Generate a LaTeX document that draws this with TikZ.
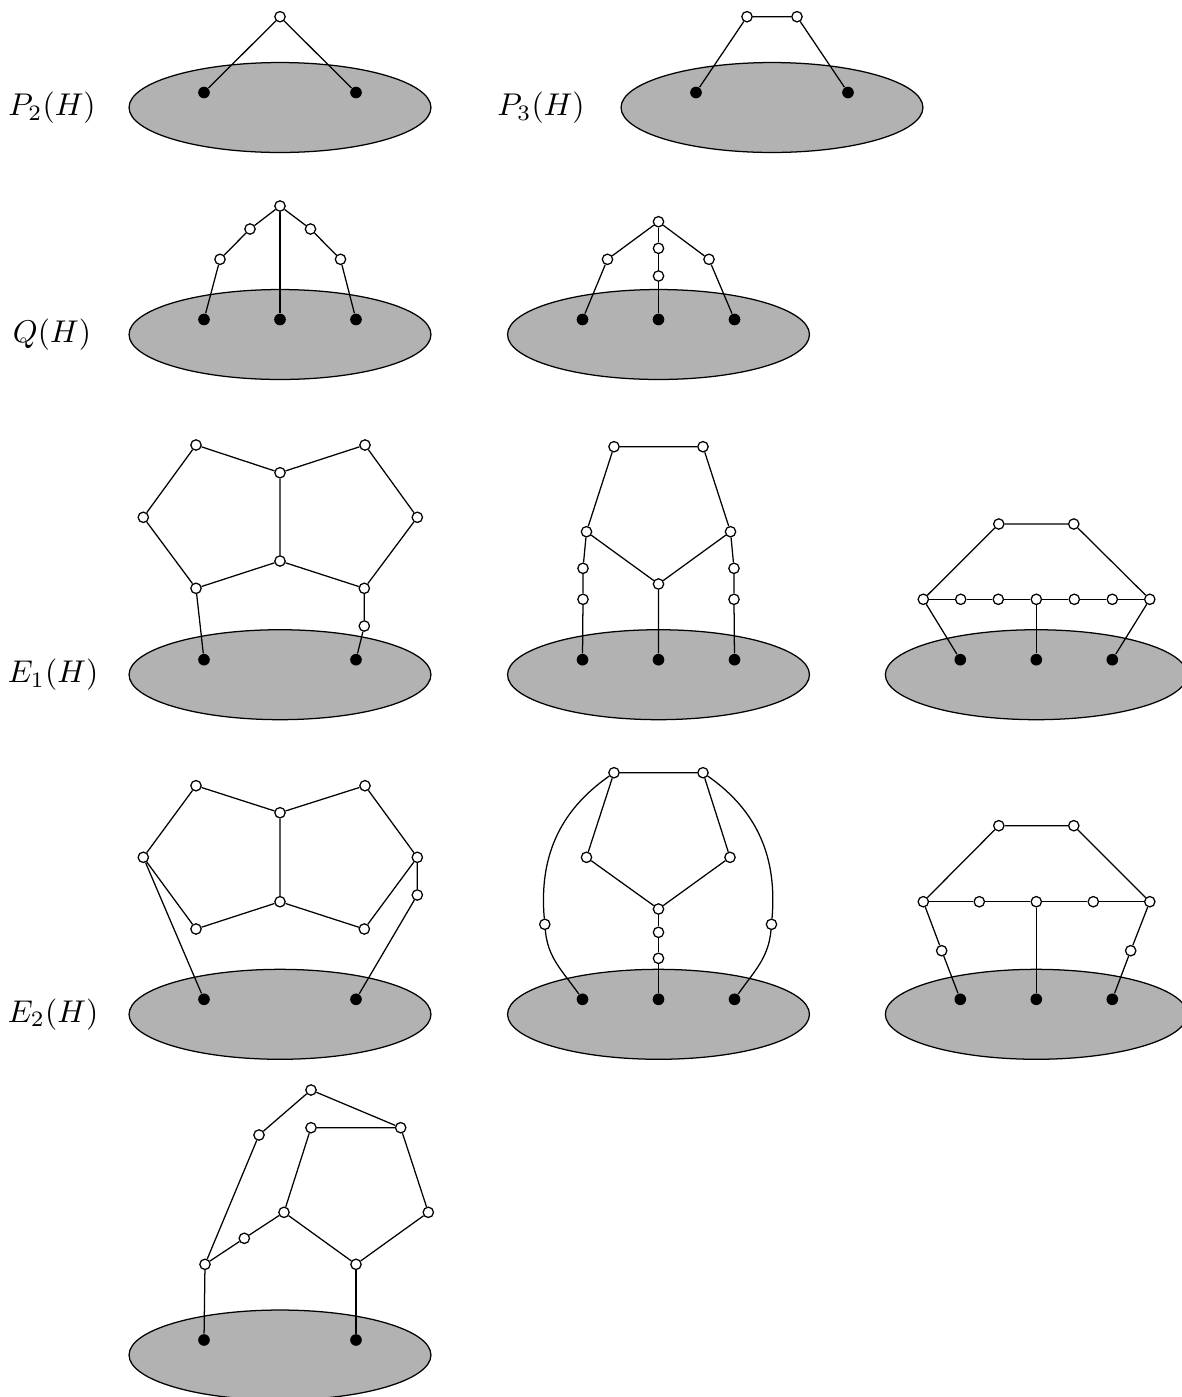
\documentclass[tikz,border=0pt]{standalone}
\usetikzlibrary{shapes.geometric}
\begin{document}
\begin{tikzpicture}[x=0.318pt,y=-0.318pt,
  ov/.style={circle,draw,fill=white,inner sep=0pt,minimum size=3.3pt},
  bv/.style={circle,fill=black,inner sep=0pt,minimum size=3.7pt},
  blob/.style={ellipse,draw,fill=black!30,inner sep=0pt,minimum width=96pt,minimum height=28.6pt},
  lab/.style={inner sep=0pt}]
\useasboundingbox (0,0) rectangle (1181,1397);

% labels
\node[lab] (lp2) at (52,107.5) {$P_2(H)$};
\node[lab] (lp3) at (541,107.5) {$P_3(H)$};
\node[lab] (lq) at (52,334.5) {$Q(H)$};
\node[lab] (le1) at (53,674.7) {$E_1(H)$};
\node[lab] (le2) at (53,1014.3) {$E_2(H)$};

% ---------- P2(H)
\begin{scope}[shift={(280,107.5)}]
\node[blob] (pa) at (0,0) {};
\node[bv] (pa1) at (-76,-15) {};
\node[bv] (pa2) at (76,-15) {};
\node[ov] (pat) at (0,-90.8) {};
\draw (pa1) -- (pat) -- (pa2);
\end{scope}

% ---------- P3(H)
\begin{scope}[shift={(772,107.5)}]
\node[blob] (pb) at (0,0) {};
\node[bv] (pb1) at (-76,-15) {};
\node[bv] (pb2) at (76,-15) {};
\node[ov] (pbt1) at (-25,-90.8) {};
\node[ov] (pbt2) at (25,-90.8) {};
\draw (pb1) -- (pbt1) -- (pbt2) -- (pb2);
\end{scope}

% ---------- Q(H) first
\begin{scope}[shift={(280,334.5)}]
\node[blob] (qa) at (0,0) {};
\node[bv] (qa1) at (-76,-15) {};
\node[bv] (qa2) at (0,-15) {};
\node[bv] (qa3) at (76,-15) {};
\node[ov] (qat) at (0,-128.5) {};
\node[ov] (qal1) at (-30,-105.5) {};
\node[ov] (qal2) at (-60,-75.2) {};
\node[ov] (qar1) at (30.5,-105.5) {};
\node[ov] (qar2) at (60.5,-75.2) {};
\draw (qa1) -- (qal2) -- (qal1) -- (qat) -- (qar1) -- (qar2) -- (qa3);
\draw (qat) -- (qa2);
\end{scope}

% ---------- Q(H) second
\begin{scope}[shift={(658.5,334.5)}]
\node[blob] (qb) at (0,0) {};
\node[bv] (qb1) at (-76,-15) {};
\node[bv] (qb2) at (0,-15) {};
\node[bv] (qb3) at (76,-15) {};
\node[ov] (qbt) at (0,-112.8) {};
\node[ov] (qbm1) at (0,-86.2) {};
\node[ov] (qbm2) at (0,-58.5) {};
\node[ov] (qbl) at (-51,-75.2) {};
\node[ov] (qbr) at (50.5,-75.2) {};
\draw (qb1) -- (qbl) -- (qbt) -- (qbr) -- (qb3);
\draw (qbt) -- (qbm1) -- (qbm2) -- (qb2);
\end{scope}

% ---------- E1(H) first
\begin{scope}[shift={(280,674.7)}]
\node[blob] (ea) at (0,0) {};
\node[bv] (ea1) at (-76,-15) {};
\node[bv] (ea2) at (76,-15) {};
\node[ov] (eaA) at (-84,-229.7) {};
\node[ov] (eaB) at (85,-229.7) {};
\node[ov] (eaC) at (0,-202) {};
\node[ov] (eaD) at (-136.7,-157.4) {};
\node[ov] (eaE) at (137.3,-157.4) {};
\node[ov] (eaF) at (0,-113.7) {};
\node[ov] (eaG) at (-84,-86.4) {};
\node[ov] (eaH) at (84.3,-86.4) {};
\node[ov] (eaI) at (84.3,-48.7) {};
\draw (eaC) -- (eaA) -- (eaD) -- (eaG) -- (eaF) -- (eaH) -- (eaE) -- (eaB) -- (eaC) -- (eaF);
\draw (eaG) -- (ea1);
\draw (eaH) -- (eaI) -- (ea2);
\end{scope}

% ---------- E1(H) second
\begin{scope}[shift={(658.5,674.7)}]
\node[blob] (eb) at (0,0) {};
\node[bv] (eb1) at (-76,-15) {};
\node[bv] (eb2) at (0,-15) {};
\node[bv] (eb3) at (76,-15) {};
\node[ov] (ebT1) at (-44.5,-228) {};
\node[ov] (ebT2) at (44.5,-228) {};
\node[ov] (ebL) at (-72,-143) {};
\node[ov] (ebR) at (72,-143) {};
\node[ov] (ebM) at (0,-90.7) {};
\node[ov] (ebL1) at (-75.5,-106.4) {};
\node[ov] (ebL2) at (-75.5,-75.4) {};
\node[ov] (ebR1) at (75.5,-106.4) {};
\node[ov] (ebR2) at (75.5,-75.4) {};
\draw (ebM) -- (ebL) -- (ebT1) -- (ebT2) -- (ebR) -- (ebM) -- (eb2);
\draw (ebL) -- (ebL1) -- (ebL2) -- (eb1);
\draw (ebR) -- (ebR1) -- (ebR2) -- (eb3);
\end{scope}

% ---------- E1(H) third
\begin{scope}[shift={(1036.3,674.7)}]
\node[blob] (ec) at (0,0) {};
\node[bv] (ec1) at (-76,-15) {};
\node[bv] (ec2) at (0,-15) {};
\node[bv] (ec3) at (76,-15) {};
\node[ov] (ecT1) at (-37.5,-150.7) {};
\node[ov] (ecT2) at (37.5,-150.7) {};
\node[ov] (ecr0) at (-113,-75.4) {};
\node[ov] (ecr1) at (-75.6,-75.4) {};
\node[ov] (ecr2) at (-38,-75.4) {};
\node[ov] (ecr3) at (0,-75.4) {};
\node[ov] (ecr4) at (38,-75.4) {};
\node[ov] (ecr5) at (76,-75.4) {};
\node[ov] (ecr6) at (113.5,-75.4) {};
\draw (ecr0) -- (ecT1) -- (ecT2) -- (ecr6);
\draw (ecr0) -- (ecr1) -- (ecr2) -- (ecr3) -- (ecr4) -- (ecr5) -- (ecr6);
\draw (ecr0) -- (ec1);
\draw (ecr3) -- (ec2);
\draw (ecr6) -- (ec3);
\end{scope}

% ---------- E2(H) first
\begin{scope}[shift={(280,1014.3)}]
\node[blob] (fa) at (0,0) {};
\node[bv] (fa1) at (-76,-15) {};
\node[bv] (fa2) at (76,-15) {};
\node[ov] (faA) at (-84,-228.6) {};
\node[ov] (faB) at (85,-228.6) {};
\node[ov] (faC) at (0,-201.6) {};
\node[ov] (faD) at (-136.7,-157) {};
\node[ov] (faE) at (137.3,-157) {};
\node[ov] (faEp) at (137.3,-119.3) {};
\node[ov] (faF) at (0,-112.6) {};
\node[ov] (faG) at (-84,-85.3) {};
\node[ov] (faH) at (84.3,-85.3) {};
\draw (faC) -- (faA) -- (faD) -- (faG) -- (faF) -- (faH) -- (faE) -- (faB) -- (faC) -- (faF);
\draw (faD) -- (fa1);
\draw (faE) -- (faEp) -- (fa2);
\end{scope}

% ---------- E2(H) second
\begin{scope}[shift={(658.5,1014.3)}]
\node[blob] (fb) at (0,0) {};
\node[bv] (fb1) at (-76,-15) {};
\node[bv] (fb2) at (0,-15) {};
\node[bv] (fb3) at (76,-15) {};
\node[ov] (fbT1) at (-44.5,-241.6) {};
\node[ov] (fbT2) at (44.5,-241.6) {};
\node[ov] (fbL) at (-72,-157) {};
\node[ov] (fbR) at (71.5,-157) {};
\node[ov] (fbM) at (0,-105.3) {};
\node[ov] (fbM1) at (0,-82) {};
\node[ov] (fbM2) at (0,-56) {};
\node[ov] (fbLL) at (-113.7,-90) {};
\node[ov] (fbRR) at (113,-90) {};
\draw (fbM) -- (fbL) -- (fbT1) -- (fbT2) -- (fbR) -- (fbM);
\draw (fbM) -- (fbM1) -- (fbM2) -- (fb2);
\draw (fbT1) to[out=215,in=95] (fbLL);
\draw (fbLL) to[out=-85,in=125] (fb1);
\draw (fbT2) to[out=-35,in=85] (fbRR);
\draw (fbRR) to[out=-95,in=55] (fb3);
\end{scope}

% ---------- E2(H) third
\begin{scope}[shift={(1036.3,1014.3)}]
\node[blob] (fc) at (0,0) {};
\node[bv] (fc1) at (-76,-15) {};
\node[bv] (fc2) at (0,-15) {};
\node[bv] (fc3) at (76,-15) {};
\node[ov] (fcT1) at (-37.5,-188.6) {};
\node[ov] (fcT2) at (37.5,-188.6) {};
\node[ov] (fcr0) at (-113,-112.6) {};
\node[ov] (fcr1) at (-57,-112.6) {};
\node[ov] (fcr2) at (0,-112.6) {};
\node[ov] (fcr3) at (57,-112.6) {};
\node[ov] (fcr4) at (113.5,-112.6) {};
\node[ov] (fcLL) at (-94.6,-63.6) {};
\node[ov] (fcRR) at (94.4,-63.6) {};
\draw (fcr0) -- (fcT1) -- (fcT2) -- (fcr4);
\draw (fcr0) -- (fcr1) -- (fcr2) -- (fcr3) -- (fcr4);
\draw (fcr0) -- (fcLL) -- (fc1);
\draw (fcr2) -- (fc2);
\draw (fcr4) -- (fcRR) -- (fc3);
\end{scope}

% ---------- bottom graph
\begin{scope}[shift={(280,1355)}]
\node[blob] (ga) at (0,0) {};
\node[bv] (ga1) at (-76,-15) {};
\node[bv] (ga2) at (76,-15) {};
\node[ov] (gaT) at (31,-265) {};
\node[ov] (gaA) at (-21,-220) {};
\node[ov] (gaB1) at (31,-227.3) {};
\node[ov] (gaB2) at (120.7,-227.3) {};
\node[ov] (gaC) at (4,-142.7) {};
\node[ov] (gaD) at (148.3,-142.7) {};
\node[ov] (gaE) at (-35.7,-116.7) {};
\node[ov] (gaF) at (-75,-90.7) {};
\node[ov] (gaG) at (76,-90.7) {};
\draw (gaF) -- (gaA) -- (gaT) -- (gaB2);
\draw (gaC) -- (gaB1) -- (gaB2) -- (gaD) -- (gaG) -- (gaC);
\draw (gaC) -- (gaE) -- (gaF);
\draw (gaF) -- (ga1);
\draw (gaG) -- (ga2);
\end{scope}
\end{tikzpicture}
\end{document}
